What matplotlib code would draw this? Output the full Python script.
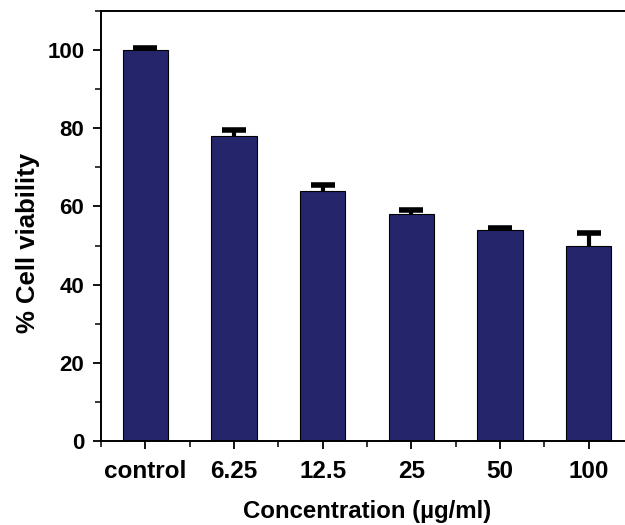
import matplotlib.pyplot as plt
import numpy as np
from matplotlib.ticker import MultipleLocator, FixedLocator

plt.rcParams['font.family'] = ['Liberation Sans', 'DejaVu Sans']
plt.rcParams['font.weight'] = 'bold'

# data
groups = ["control", "6.25", "12.5", "25", "50", "100"]
viability = [100, 78, 64, 58, 54, 50]
err_up = [0.5, 1.5, 1.5, 1.0, 0.5, 3.3]

fig = plt.figure(figsize=(6.25, 5.25), dpi=100)
ax = fig.add_axes([0.1616, 0.16, 0.8514, 0.819])

x = np.arange(len(groups))
ax.bar(x, viability, width=0.51, color="#25256c", edgecolor="black", linewidth=0.8, zorder=2)
eb = ax.errorbar(x, viability, yerr=[np.zeros(len(err_up)), err_up], fmt="none",
                 ecolor="black", elinewidth=3, capsize=8.5, capthick=4, zorder=3)
# only the upper caps
eb[1][0].set_visible(False)

ax.set_xlim(-0.5, 5.5)
ax.set_ylim(0, 110)
ax.set_xticks(x)
ax.set_xticklabels(groups)
ax.xaxis.set_minor_locator(FixedLocator(np.arange(-0.5, 6, 1)))
ax.yaxis.set_major_locator(MultipleLocator(20))
ax.yaxis.set_minor_locator(MultipleLocator(10))

ax.tick_params(which="major", direction="out", length=6, width=1.3)
ax.tick_params(which="minor", direction="out", length=4, width=1.1)
ax.tick_params(axis="x", which="major", labelsize=17.5, pad=8)
ax.tick_params(axis="y", which="major", labelsize=16, pad=6)
for lab in ax.get_xticklabels() + ax.get_yticklabels():
    lab.set_fontweight("bold")

for s in ["left", "bottom", "top", "right"]:
    ax.spines[s].set_linewidth(1.4)

ax.set_xlabel("Concentration (µg/ml)", fontsize=17.3, fontweight="bold", va="baseline")
ax.set_ylabel("% Cell viability", fontsize=18.5, fontweight="bold")
ax.xaxis.set_label_coords(0.5, -0.18)
ax.yaxis.set_label_coords(-0.115, 0.46)

fig.savefig("out.png", dpi=100)
